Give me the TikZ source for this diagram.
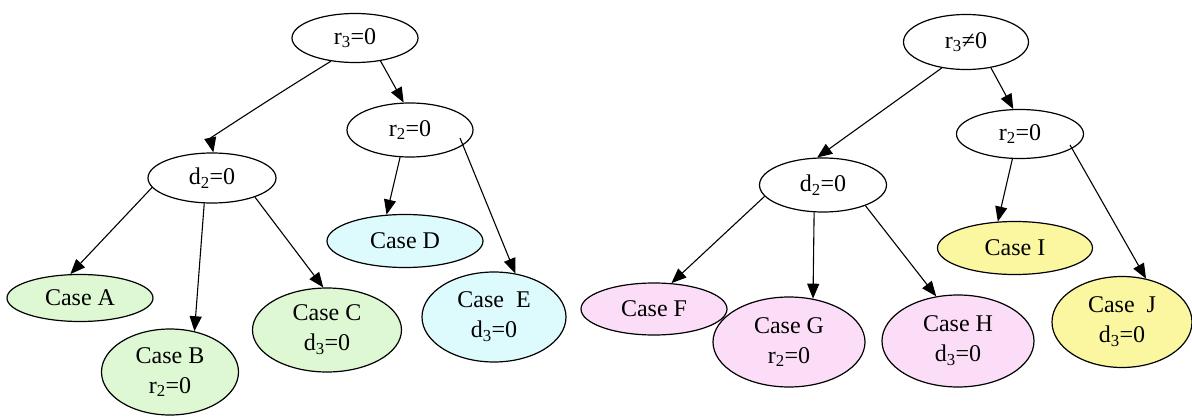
\documentclass[tikz,border=0pt]{standalone}
\usepackage{fontspec}
\setmainfont{Liberation Serif}
\usetikzlibrary{shapes.geometric,arrows.meta}

\definecolor{leafgreen}{HTML}{DDF8D2}
\definecolor{leafcyan}{HTML}{DDFAFD}
\definecolor{leafpink}{HTML}{FCDDF8}
\definecolor{leafyellow}{HTML}{FAF7A0}

\tikzset{
  test/.style={ellipse, draw, line width=1.2pt, inner sep=0pt, align=center,
    font=\fontsize{24}{30}\selectfont, fill=white},
  leaf/.style={test},
  edge/.style={line width=1.1pt, -{Triangle[length=15pt,width=12pt]}},
}

\begin{document}
\begin{tikzpicture}[x=1pt,y=-1pt]
\useasboundingbox (0,0) rectangle (1192,417);

% ---- tree for r3 = 0 ----
\node[test, minimum width=126pt, minimum height=49pt] (r3L) at (355,38) {r\textsubscript{3}=0};
\node[test, minimum width=126pt, minimum height=54pt] (r2L) at (410,130) {r\textsubscript{2}=0};
\node[test, minimum width=128pt, minimum height=50pt] (d2L) at (212,178) {d\textsubscript{2}=0};

\node[leaf, fill=leafgreen, minimum width=146pt, minimum height=47pt] (A) at (80,298) {Case A};
\node[leaf, fill=leafgreen, minimum width=137pt, minimum height=86pt] (B) at (170,372) {Case B\\r\textsubscript{2}=0};
\node[leaf, fill=leafgreen, minimum width=149pt, minimum height=84pt] (C) at (327,330) {Case C\\d\textsubscript{3}=0};
\node[leaf, fill=leafcyan, minimum width=156pt, minimum height=53pt] (D) at (405,241) {Case D};
\node[leaf, fill=leafcyan, minimum width=144pt, minimum height=90pt] (E) at (494,317) {Case\ \ E\\d\textsubscript{3}=0};

\draw[edge] (r3L.224) .. controls ([shift={(-70,43)}]r3L.224) and ([shift={(-3,-14)}]d2L.87) .. (d2L.87);
\draw[edge] (r3L.318) -- (r2L.103);
\draw[edge] (d2L.189) -- (A.112);
\draw[edge] (d2L.253) -- (B.59);
\draw[edge] (d2L.336) -- (C.95);
\draw[edge] (r2L.250) -- (D.125);
\draw[edge] ([shift={(50,8)}]r2L.center) -- (E.64);

% ---- tree for r3 != 0 ----
\node[test, minimum width=125pt, minimum height=55pt] (r3R) at (966,42) {r\textsubscript{3}≠0};
\node[test, minimum width=127pt, minimum height=49pt] (r2R) at (1020,134) {r\textsubscript{2}=0};
\node[test, minimum width=127pt, minimum height=54pt] (d2R) at (823,185) {d\textsubscript{2}=0};

\node[leaf, fill=leafpink, minimum width=146pt, minimum height=52pt] (F) at (654,309) {Case F};
\node[leaf, fill=leafpink, minimum width=152pt, minimum height=90pt] (G) at (789,342) {Case G\\r\textsubscript{2}=0};
\node[leaf, fill=leafpink, minimum width=152pt, minimum height=92pt] (H) at (958,341) {Case H\\d\textsubscript{3}=0};
\node[leaf, fill=leafyellow, minimum width=155pt, minimum height=53pt] (I) at (1015,248) {Case I};
\node[leaf, fill=leafyellow, minimum width=140pt, minimum height=91pt] (J) at (1122,322) {Case\ \ J\\d\textsubscript{3}=0};

\draw[edge] (r3R.227) -- (d2R.102);
\draw[edge] (r3R.314) -- (r2R.105);
\draw[edge] (d2R.191) -- (F.56);
\draw[edge] (d2R.252) -- (G.61);
\draw[edge] (d2R.334) -- (H.116);
\draw[edge] (r2R.253) -- (I.123);
\draw[edge] ([shift={(50,11)}]r2R.center) -- (J.61);
\end{tikzpicture}
\end{document}
